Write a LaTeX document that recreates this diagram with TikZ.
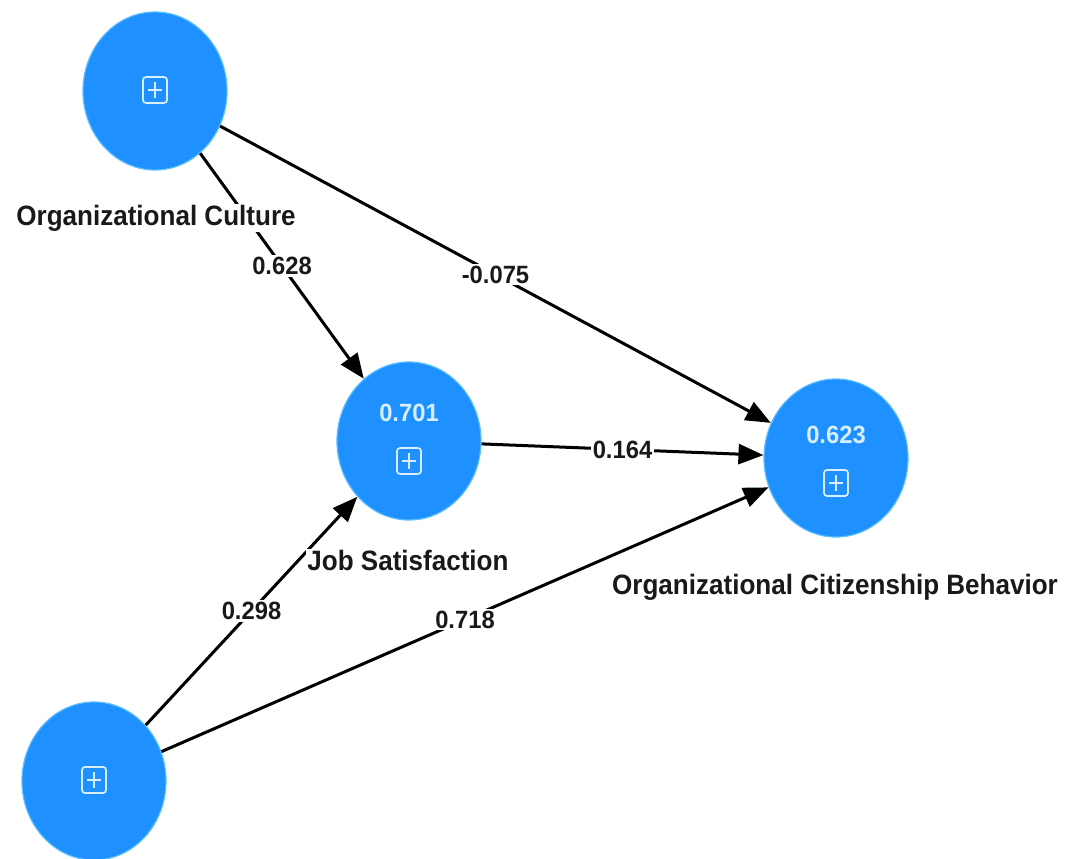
\documentclass[tikz,border=0pt]{standalone}
\usepackage{fontspec}
\setmainfont{Liberation Sans}
\newfontfamily\namefont{Liberation Sans}[FakeStretch=0.93]
\newfontfamily\numfont{Liberation Sans}[FakeStretch=0.95]
\usetikzlibrary{shapes.geometric,arrows.meta}
\definecolor{lvblue}{RGB}{30,144,255}
\definecolor{lvedge}{RGB}{90,190,255}
\definecolor{iconcol}{RGB}{215,238,255}
\definecolor{txtcol}{RGB}{25,25,25}
\begin{document}
\begin{tikzpicture}[x=1pt,y=-1pt,
  lv/.style={ellipse, fill=lvblue, draw=lvedge, line width=1.2pt,
    minimum width=144pt, minimum height=158pt, inner sep=0pt},
  iconbox/.style={draw=iconcol, line width=1.7pt, rounded corners=3pt,
    minimum width=24pt, minimum height=26pt, inner sep=0pt,
    path picture={
      \draw[iconcol, line width=1.7pt]
        ([yshift=-5pt]path picture bounding box.north) -- ([yshift=5pt]path picture bounding box.south)
        ([xshift=5pt]path picture bounding box.west) -- ([xshift=-5pt]path picture bounding box.east);
    }},
  val/.style={font=\numfont\bfseries\fontsize{25}{29}\selectfont, text=iconcol, inner sep=0pt},
  lvname/.style={font=\namefont\bfseries\fontsize{28}{32}\selectfont, text=txtcol, fill=white, inner sep=1pt},
  coef/.style={font=\numfont\bfseries\fontsize{25}{29}\selectfont, text=txtcol, fill=white, inner sep=2pt},
  link/.style={draw=black, line width=3pt, -{Triangle[length=25pt,width=20pt]}}
]
\useasboundingbox[fill=white] (0,0) rectangle (1080,859);

% latent variables
\node[lv] (oc)  at (155,91)  {};
\node[lv] (js)  at (409,441) {};
\node[lv] (ocb) at (836,458) {};
\node[lv] (pe)  at (94,781)  {};

% contents
\node[iconbox] (oc-i)  at (155,90)  {};
\node[iconbox] (js-i)  at (409,461) {};
\node[iconbox] (ocb-i) at (836,483) {};
\node[iconbox] (pe-i)  at (94,780)  {};
\node[val] (js-v)  at (409,413) {0.701};
\node[val] (ocb-v) at (836,435) {0.623};

% paths
\draw[link] (oc) -- node[coef] (c1) {0.628} (js);
\draw[link] (oc) -- node[coef] (c2) {-0.075} (ocb);
\draw[link] (js) -- node[coef] (c3) {0.164} (ocb);
\draw[link] (pe) -- node[coef] (c4) {0.298} (js);
\draw[link] (pe) -- node[coef] (c5) {0.718} (ocb);

% names
\node[lvname] (oc-n)  at (156,218) {Organizational Culture};
\node[lvname] (js-n)  at (408,560) {Job Satisfaction};
\node[lvname] (ocb-n) at (835,587) {Organizational Citizenship Behavior};
\end{tikzpicture}
\end{document}
